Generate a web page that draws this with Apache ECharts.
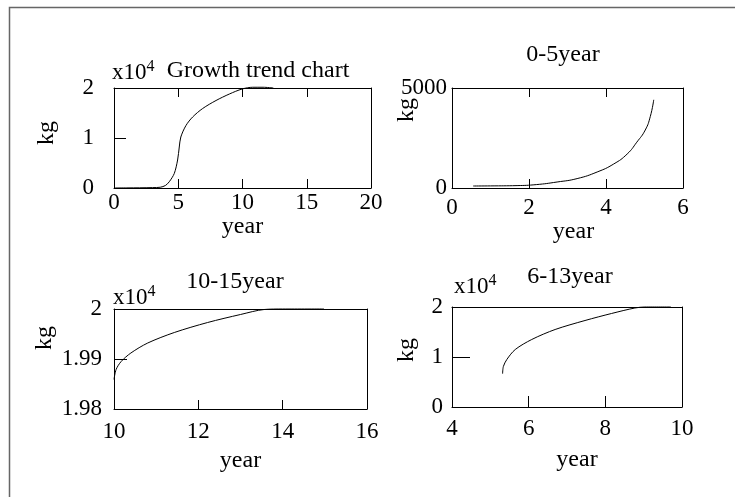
<!DOCTYPE html>
<html>
<head>
<meta charset="utf-8">
<script src="https://cdn.jsdelivr.net/npm/echarts@6/dist/echarts.min.js"></script>
<style>
html,body{margin:0;padding:0;background:#fff;}
#chart{width:735px;height:497px;}
</style>
</head>
<body>
<div id="chart"></div>
<script>
// ---- Data (year, kg) ----
const titles = ['Growth trend chart', '0-5year', '10-15year', '6-13year'];
const xName = 'year';
const yName = 'kg';

const growthAll = [[0,0],[1,20],[2,40],[3,80],[3.6,150],[4.0,500],[4.3,1250],[4.69,2900],[4.95,5600],[5.08,8200],[5.2,10200],[5.6,12500],[6.12,14200],[6.9,15900],[7.94,17500],[8.98,18800],[9.97,19800],[10.8,20150],[11.6,20150],[12.4,20000]];
const growth0to5 = [[0.55,100],[1.0,105],[1.69,120],[2.19,170],[2.73,300],[3.25,470],[3.77,800],[4.2,1200],[4.55,1700],[4.8,2290],[5.02,2900],[5.15,3570],[5.24,4410]];
const growth10to15 = [[10,19859],[10.05,19879],[10.17,19895],[10.4,19912],[10.8,19932],[11.43,19953],[12.22,19973],[13.0,19989],[13.56,19999],[14,20000],[14.98,20000]];
const growth6to13 = [[5.32,6660],[5.34,8100],[5.43,9500],[5.65,11500],[6.08,13500],[6.69,15500],[7.47,17300],[8.16,18700],[8.77,19800],[9.03,20000],[9.71,20000]];

// axis ranges [min, max, interval]
const xRanges = [[0,20,5],[0,6,2],[10,16,2],[4,10,2]];
const yRanges = [[0,20000,10000],[0,5000,5000],[19800,20000,100],[0,20000,10000]];

const FONT = 'Liberation Serif';
const FS = 24;      // titles and axis names
const FT = 23;      // tick labels

const grids = [
  {left:114, top:88, width:257, height:100},
  {left:452, top:88, width:231, height:100},
  {left:114, top:309, width:253, height:100},
  {left:452, top:307, width:230, height:100}
];
const seriesData = [growthAll, growth0to5, growth10to15, growth6to13];
const smoothing = [0.3, 0.5, 0.3, 0.3];
const yFormat = [
  v => String(v/1e4),
  v => String(v),
  v => String(Number((v/1e4).toFixed(2))),
  v => String(v/1e4)
];
const xLabelMargin = [3, 8, 11, 10];
const xTickLen = [9, 9, 9, 11];
const topTicks = [true, true, false, false];
const yTickLen = [12, 0, 13, 18];
const yLabelMargin = [20, 5, 12, 9];
const nameGaps = [16, 18, 40, 41];
const namePad = [[0,0,0,0],[0,0,0,12],[0,0,0,0],[0,0,0,20]];

const lineCol = '#000';
const xAxes = [], yAxes = [], series = [];
for (let i = 0; i < 4; i++) {
  const [xmin,xmax,xint] = xRanges[i];
  const [ymin,ymax,yint] = yRanges[i];
  xAxes.push({
    type:'value', gridIndex:i, position:'bottom', min:xmin, max:xmax, interval:xint,
    axisLine:{show:true, onZero:false, lineStyle:{color:lineCol, width:1}},
    axisTick:{show:true, inside:true, length:xTickLen[i], lineStyle:{color:lineCol}},
    axisLabel:{show:true, margin:xLabelMargin[i], color:'#000', fontSize:FT, fontFamily:FONT},
    splitLine:{show:false},
    name:xName, nameLocation:'middle', nameGap:nameGaps[i],
    nameTextStyle:{color:'#000', fontSize:FS, fontFamily:FONT, padding:namePad[i]}
  });
  xAxes.push({
    type:'value', gridIndex:i, position:'top', min:xmin, max:xmax, interval:xint,
    axisLine:{show:true, onZero:false, lineStyle:{color:lineCol, width:1}},
    axisTick:{show:topTicks[i], inside:true, length:9, lineStyle:{color:lineCol}},
    axisLabel:{show:false}, splitLine:{show:false}
  });
  yAxes.push({
    type:'value', gridIndex:i, position:'left', min:ymin, max:ymax, interval:yint,
    axisLine:{show:true, onZero:false, lineStyle:{color:lineCol, width:1}},
    axisTick:{show:yTickLen[i] > 0, inside:true, length:yTickLen[i], lineStyle:{color:lineCol}},
    axisLabel:{show:true, margin:yLabelMargin[i], color:'#000', fontSize:FT, fontFamily:FONT, formatter:yFormat[i]},
    splitLine:{show:false}
  });
  yAxes.push({
    type:'value', gridIndex:i, position:'right', min:ymin, max:ymax, interval:yint,
    axisLine:{show:true, onZero:false, lineStyle:{color:lineCol, width:1}},
    axisTick:{show:false}, axisLabel:{show:false}, splitLine:{show:false}
  });
  series.push({
    type:'line', xAxisIndex:2*i, yAxisIndex:2*i, data:seriesData[i],
    showSymbol:false, smooth:smoothing[i],
    lineStyle:{color:'#000', width:1}, silent:true, animation:false, clip:false
  });
}

function txt(x, y, text) {
  return {type:'text', x:x, y:y, silent:true,
    style:{text:text, fontSize:FS, fontFamily:FONT, fill:'#000', align:'center', verticalAlign:'middle'}};
}
function sci(x, y) {
  return {type:'text', x:x, y:y, silent:true,
    style:{text:'x10{s|4}', fontSize:FT, fontFamily:FONT, fill:'#000', align:'left', verticalAlign:'middle',
      rich:{s:{fontSize:16, fontFamily:FONT, fill:'#000', padding:[0,0,12,0]}}}};
}
function ylab(x, y) {
  const t = txt(x, y, yName);
  t.rotation = Math.PI/2;
  return t;
}

const graphic = [
  {type:'rect', shape:{x:9.5, y:7.5, width:800, height:600}, style:{fill:null, stroke:'#666', lineWidth:1.5}, silent:true},
  txt(258, 71, titles[0]),
  txt(563, 55, titles[1]),
  txt(235, 282, titles[2]),
  txt(570, 277, titles[3]),
  sci(112, 73), sci(113, 298), sci(454, 287),
  ylab(47, 133), ylab(407, 110), ylab(45, 338), ylab(407, 350)
];

const chart = echarts.init(document.getElementById('chart'), null, {renderer:'canvas'});
chart.setOption({
  animation:false,
  backgroundColor:'#fff',
  grid:grids,
  xAxis:xAxes,
  yAxis:yAxes,
  series:series,
  graphic:graphic
});
</script>
</body>
</html>
